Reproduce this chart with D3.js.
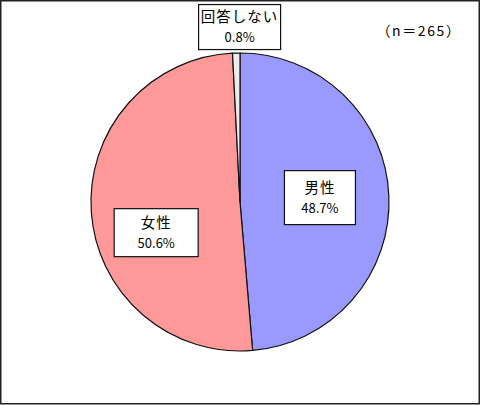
<!DOCTYPE html>
<html>
<head>
<meta charset="utf-8">
<script src="https://cdn.jsdelivr.net/npm/d3@7"></script>
<style>
  body { margin: 0; background: #fff; }
  svg text { font-family: "Noto Sans CJK JP", "Noto Sans", sans-serif; fill: #000; }
</style>
</head>
<body>
<svg id="chart" width="480" height="405"></svg>
<script>
// data
var categories = ['男性', '女性', '回答しない'],
  shares = [48.7, 50.6, 0.8],
  colors = ['#9999ff', '#ff9999', '#ececec'],
  sampleNote = '（n＝265）';

var width = 480, height = 405,
  cx = 240, cy = 202, radius = 149;

// label boxes: distance from centre along the slice mid angle, nudge, box size
var labelLayout = [
  { r: 80, dx: 0, dy: -1, w: 71, h: 54 },
  { r: 84, dx: 0, dy: 25, w: 84, h: 48 },
  { r: 175, dx: 4, dy: 0, w: 82, h: 45 }
];

var svg = d3.select('#chart');

svg.append('rect')
  .attr('x', 0.75).attr('y', 0.75)
  .attr('width', width - 1.5).attr('height', height - 2)
  .attr('fill', '#fff')
  .attr('stroke', '#222')
  .attr('stroke-width', 1.5);

var pie = d3.pie().sort(null).value(function(d) { return d; });
var arcs = pie(shares);

var arc = d3.arc().innerRadius(0).outerRadius(radius);

var g = svg.append('g').attr('transform', 'translate(' + cx + ',' + cy + ')');

g.selectAll('path.slice')
  .data(arcs)
  .enter().append('path')
  .attr('class', 'slice')
  .attr('d', arc)
  .attr('fill', function(d, i) { return colors[i]; })
  .attr('stroke', '#111')
  .attr('stroke-width', 1.2)
  .attr('stroke-linejoin', 'round');

var fmt = d3.format('.1f');

var labels = g.selectAll('g.label')
  .data(arcs)
  .enter().append('g')
  .attr('class', 'label')
  .attr('transform', function(d, i) {
    var L = labelLayout[i];
    var c = d3.arc().innerRadius(L.r).outerRadius(L.r).centroid(d);
    return 'translate(' + (c[0] + L.dx) + ',' + (c[1] + L.dy) + ')';
  });

labels.append('rect')
  .attr('x', function(d, i) { return -labelLayout[i].w / 2; })
  .attr('y', function(d, i) { return -labelLayout[i].h / 2; })
  .attr('width', function(d, i) { return labelLayout[i].w; })
  .attr('height', function(d, i) { return labelLayout[i].h; })
  .attr('fill', '#fff')
  .attr('stroke', '#111')
  .attr('stroke-width', 1.2);

labels.append('text')
  .attr('text-anchor', 'middle')
  .attr('y', -5)
  .style('font-size', '14.5px')
  .style('letter-spacing', '1px')
  .text(function(d, i) { return categories[i]; });

labels.append('text')
  .attr('text-anchor', 'middle')
  .attr('y', 15)
  .style('font-size', '13px')
  .text(function(d) { return fmt(d.data) + '%'; });

svg.append('text')
  .attr('x', 419).attr('y', 36)
  .attr('text-anchor', 'middle')
  .style('font-size', '14px')
  .style('letter-spacing', '1.6px')
  .text(sampleNote);
</script>
</body>
</html>
